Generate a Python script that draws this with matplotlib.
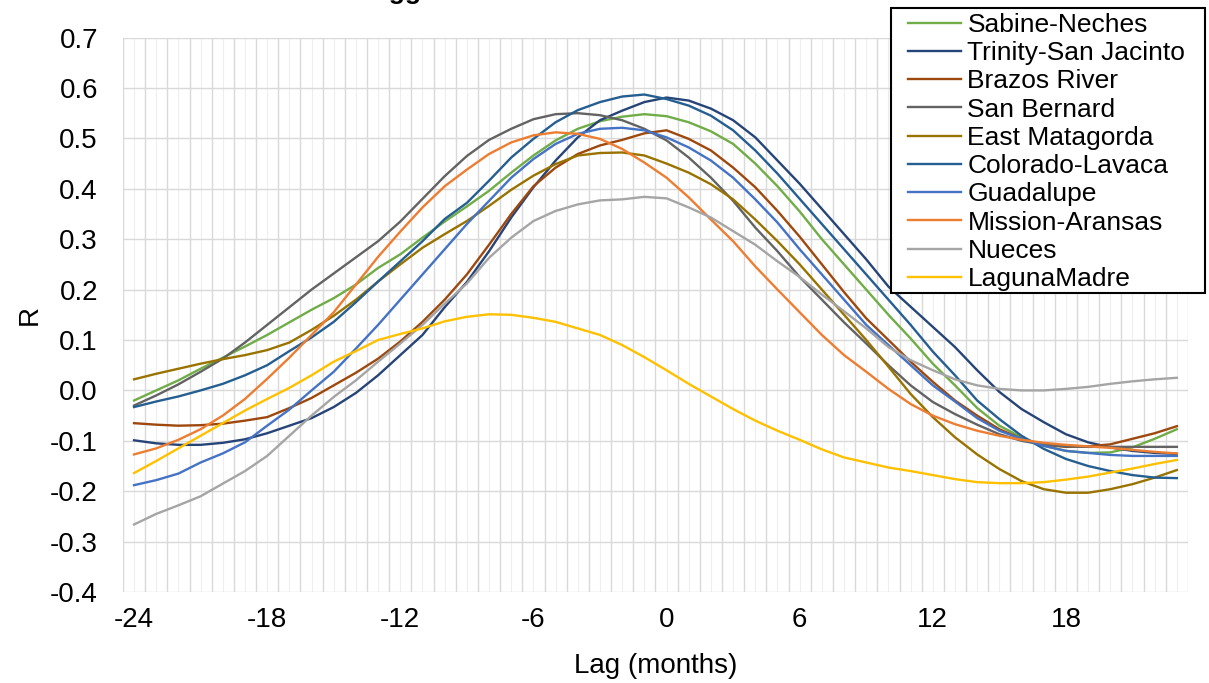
import numpy as np
import matplotlib
matplotlib.use("Agg")
import matplotlib.pyplot as plt
from matplotlib.patches import Rectangle
from matplotlib.ticker import FixedLocator, FuncFormatter

plt.rcParams['font.family'] = ['Liberation Sans', 'DejaVu Sans']

# lag in months
lags = list(range(-24, 24))

sabine_neches = [-0.020, 0.000, 0.020, 0.043, 0.065, 0.087, 0.110, 0.135, 0.160, 0.183,
                 0.210, 0.243, 0.270, 0.303, 0.335, 0.365, 0.396, 0.432, 0.466, 0.496,
                 0.519, 0.534, 0.543, 0.548, 0.544, 0.532, 0.514, 0.489, 0.450, 0.405,
                 0.355, 0.300, 0.250, 0.200, 0.150, 0.103, 0.053, 0.010, -0.035, -0.070,
                 -0.093, -0.110, -0.120, -0.124, -0.123, -0.113, -0.096, -0.077]
trinity_san_jacinto = [-0.099, -0.105, -0.108, -0.108, -0.104, -0.097, -0.085, -0.070, -0.055, -0.033,
                       -0.005, 0.030, 0.070, 0.110, 0.165, 0.215, 0.276, 0.343, 0.403, 0.456,
                       0.502, 0.536, 0.555, 0.572, 0.581, 0.575, 0.559, 0.536, 0.502, 0.456,
                       0.410, 0.360, 0.310, 0.260, 0.206, 0.166, 0.126, 0.086, 0.040, -0.003,
                       -0.037, -0.063, -0.087, -0.103, -0.113, -0.120, -0.124, -0.126]
brazos_river = [-0.065, -0.068, -0.070, -0.069, -0.066, -0.060, -0.053, -0.035, -0.015, 0.010,
                0.035, 0.063, 0.097, 0.136, 0.180, 0.230, 0.289, 0.350, 0.405, 0.442,
                0.469, 0.486, 0.497, 0.510, 0.516, 0.499, 0.476, 0.442, 0.403, 0.356,
                0.305, 0.250, 0.195, 0.143, 0.100, 0.057, 0.017, -0.020, -0.050, -0.077,
                -0.096, -0.108, -0.112, -0.111, -0.107, -0.096, -0.085, -0.071]
san_bernard = [-0.030, -0.010, 0.012, 0.037, 0.063, 0.095, 0.130, 0.165, 0.200, 0.232,
               0.264, 0.296, 0.335, 0.380, 0.425, 0.465, 0.497, 0.519, 0.538, 0.548,
               0.550, 0.546, 0.536, 0.519, 0.496, 0.462, 0.422, 0.376, 0.323, 0.276,
               0.225, 0.180, 0.135, 0.093, 0.050, 0.010, -0.023, -0.047, -0.068, -0.087,
               -0.100, -0.108, -0.111, -0.112, -0.112, -0.112, -0.112, -0.112]
east_matagorda = [0.022, 0.033, 0.043, 0.053, 0.062, 0.070, 0.080, 0.095, 0.120, 0.148,
                  0.180, 0.216, 0.250, 0.283, 0.310, 0.336, 0.366, 0.398, 0.426, 0.449,
                  0.466, 0.471, 0.472, 0.466, 0.450, 0.432, 0.409, 0.379, 0.339, 0.296,
                  0.250, 0.200, 0.150, 0.100, 0.047, -0.007, -0.053, -0.093, -0.127, -0.156,
                  -0.180, -0.196, -0.203, -0.203, -0.196, -0.186, -0.173, -0.158]
colorado_lavaca = [-0.033, -0.022, -0.012, 0.000, 0.013, 0.030, 0.050, 0.078, 0.105, 0.136,
                   0.175, 0.216, 0.256, 0.296, 0.340, 0.372, 0.416, 0.462, 0.499, 0.532,
                   0.556, 0.572, 0.583, 0.587, 0.578, 0.565, 0.545, 0.516, 0.476, 0.430,
                   0.380, 0.330, 0.280, 0.230, 0.180, 0.130, 0.077, 0.030, -0.020, -0.057,
                   -0.090, -0.116, -0.136, -0.150, -0.160, -0.168, -0.173, -0.174]
guadalupe = [-0.188, -0.178, -0.165, -0.143, -0.125, -0.103, -0.070, -0.038, 0.000, 0.037,
             0.083, 0.130, 0.180, 0.230, 0.280, 0.330, 0.376, 0.422, 0.459, 0.489,
             0.509, 0.519, 0.521, 0.516, 0.502, 0.482, 0.456, 0.422, 0.379, 0.333,
             0.280, 0.230, 0.180, 0.130, 0.090, 0.050, 0.010, -0.022, -0.055, -0.080,
             -0.096, -0.110, -0.120, -0.124, -0.128, -0.130, -0.130, -0.130]
mission_aransas = [-0.127, -0.115, -0.098, -0.077, -0.050, -0.017, 0.023, 0.065, 0.110, 0.155,
                   0.210, 0.265, 0.315, 0.363, 0.405, 0.438, 0.469, 0.492, 0.506, 0.512,
                   0.509, 0.499, 0.479, 0.452, 0.422, 0.383, 0.339, 0.296, 0.246, 0.200,
                   0.155, 0.110, 0.070, 0.037, 0.003, -0.027, -0.050, -0.067, -0.080, -0.090,
                   -0.098, -0.104, -0.108, -0.111, -0.114, -0.118, -0.122, -0.125]
nueces = [-0.266, -0.245, -0.228, -0.210, -0.185, -0.160, -0.130, -0.090, -0.050, -0.013,
          0.020, 0.057, 0.093, 0.130, 0.172, 0.212, 0.263, 0.303, 0.336, 0.356,
          0.369, 0.377, 0.379, 0.384, 0.381, 0.363, 0.343, 0.316, 0.289, 0.256,
          0.225, 0.190, 0.157, 0.123, 0.086, 0.060, 0.040, 0.022, 0.010, 0.003,
          0.000, 0.000, 0.003, 0.007, 0.013, 0.018, 0.022, 0.025]
laguna_madre = [-0.164, -0.140, -0.115, -0.090, -0.065, -0.040, -0.017, 0.005, 0.030, 0.057,
                0.078, 0.100, 0.112, 0.123, 0.137, 0.146, 0.151, 0.150, 0.144, 0.136,
                0.123, 0.110, 0.090, 0.066, 0.040, 0.013, -0.012, -0.037, -0.060, -0.080,
                -0.098, -0.117, -0.133, -0.143, -0.153, -0.160, -0.168, -0.176, -0.182, -0.184,
                -0.184, -0.182, -0.177, -0.171, -0.163, -0.155, -0.146, -0.138]

names = ["Sabine-Neches", "Trinity-San Jacinto", "Brazos River", "San Bernard",
         "East Matagorda", "Colorado-Lavaca", "Guadalupe", "Mission-Aransas",
         "Nueces", "LagunaMadre"]
series = [sabine_neches, trinity_san_jacinto, brazos_river, san_bernard, east_matagorda,
          colorado_lavaca, guadalupe, mission_aransas, nueces, laguna_madre]
colors = ["#70AD47", "#264478", "#9E480E", "#636363", "#997300",
          "#255E91", "#4472C4", "#ED7D31", "#A5A5A5", "#FFC000"]

W, H = 1209, 683
fig = plt.figure(figsize=(W / 100, H / 100), dpi=100)
ax = fig.add_axes([0.1017, 0.1332, 0.8809, 0.8118])

for name, vals, c in zip(names, series, colors):
    ax.plot(lags, vals, color=c, lw=1.7, label=name)

ax.set_xlim(-24.5, 23.5)
ax.set_ylim(-0.4, 0.7)

# gridlines like the excel category axis
ax.xaxis.set_major_locator(FixedLocator(np.arange(-24.5, 24, 1)))
ax.xaxis.set_minor_locator(FixedLocator(np.arange(-24, 24, 1)))
ax.xaxis.set_major_formatter(FuncFormatter(lambda v, p: ""))
ax.xaxis.set_minor_formatter(FuncFormatter(lambda v, p: f"{int(round(v))}" if round(v) % 6 == 0 else ""))
ax.yaxis.set_major_locator(FixedLocator(np.arange(-0.4, 0.71, 0.1)))
ax.yaxis.set_major_formatter(FuncFormatter(lambda v, p: f"{v:.1f}".replace("-0.0", "0.0")))
ax.grid(True, which="major", color="#D9D9D9", lw=1.0)
ax.grid(True, which="minor", axis="x", color="#EEEEEE", lw=0.8)
ax.set_axisbelow(True)
for s in ax.spines.values():
    s.set_visible(False)
ax.tick_params(axis="both", which="both", length=0, labelsize=20)
ax.tick_params(axis="y", pad=18)
ax.tick_params(axis="x", which="minor", pad=11)

ax.set_xlabel("Lag (months)", fontsize=20, labelpad=14)
ax.set_ylabel("R", fontsize=20, labelpad=5)

# title is mostly cut off at the top of the picture
fig.text(0.296, 1.0015, "Lagged Correlation", fontsize=19, fontweight="bold",
         ha="left", va="baseline")

# legend box drawn by hand, legend entries placed inside it
box = Rectangle((891 / W, 1 - 293 / H), 314 / W, 285 / H, transform=fig.transFigure,
                facecolor="white", edgecolor="black", lw=1.5, zorder=4)
fig.patches.append(box)
leg = fig.legend(loc="upper left", bbox_to_anchor=(908 / W, 1 - 13 / H), fontsize=19,
                 frameon=False, handlelength=2.0, handletextpad=0.25, labelspacing=0.16,
                 borderpad=0, borderaxespad=0)
leg.set_zorder(5)

fig.savefig("out.png", dpi=100)
